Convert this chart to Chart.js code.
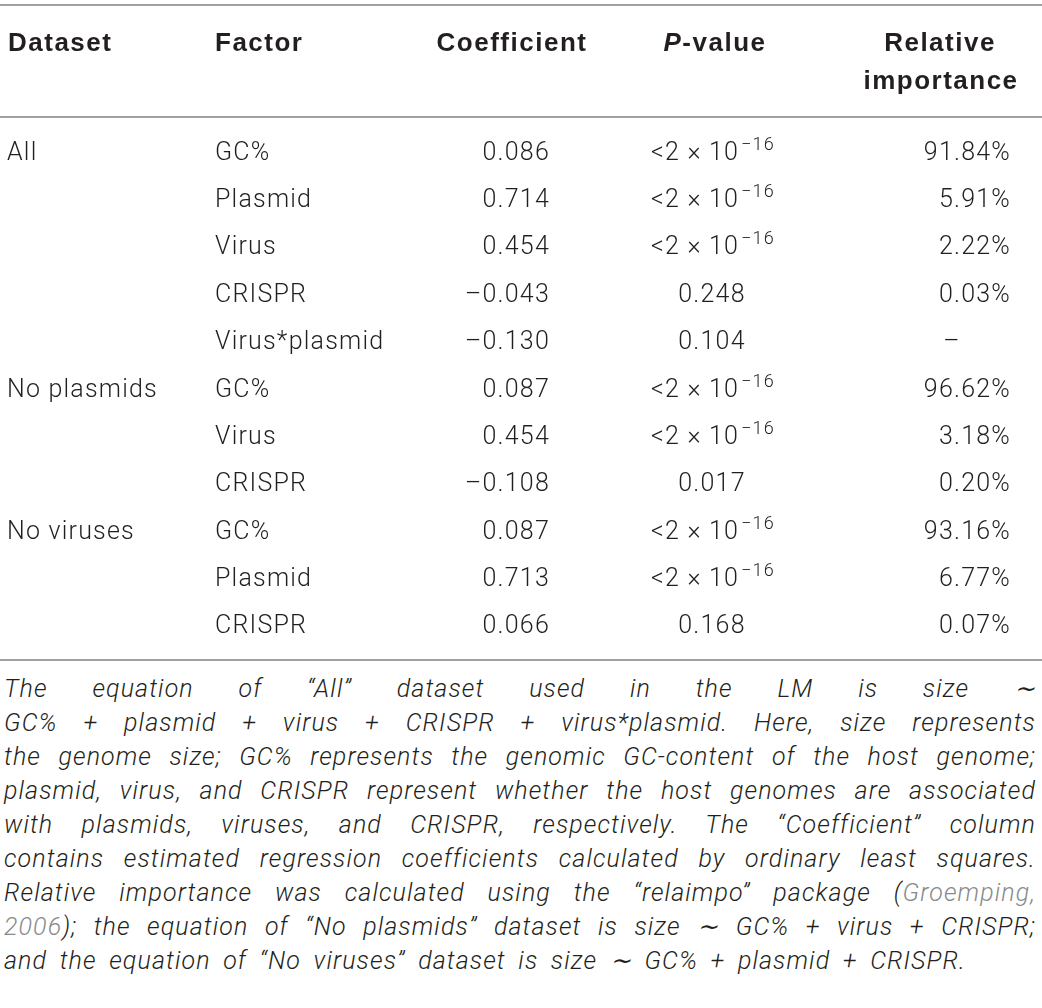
<!DOCTYPE html>
<html>
<head>
<meta charset="utf-8">
<script src="https://cdn.jsdelivr.net/npm/chart.js@4.4.0/dist/chart.umd.min.js"></script>
<style>
  body { margin: 0; background: #fff; width: 1042px; height: 1008px; overflow: hidden; position: relative; }
  #tabla { position: absolute; left: 0; top: 0; }
  #nota { position: absolute; left: 4px; top: 672px; width: 1032px; font-family: Roboto, "Liberation Sans", sans-serif;
          font-weight: 300; font-style: italic; font-size: 25px; line-height: 34px; color: #231f20; letter-spacing: 1.1px; }
  #nota div { text-align: justify; text-align-last: justify; white-space: nowrap; }
  #nota div.ult { width: 962px; }
  .ref { color: #8a8a8a; }
</style>
</head>
<body>
<canvas id="tabla" width="1042" height="664"></canvas>
<div id="nota"></div>
<script>
// datos de la tabla
var encabezados = ['Dataset', 'Factor', 'Coefficient', 'P-value', 'Relative importance'];
var grupos = ['All', '', '', '', '', 'No plasmids', '', '', 'No viruses', '', ''];
var factores = ['GC%', 'Plasmid', 'Virus', 'CRISPR', 'Virus*plasmid', 'GC%', 'Virus', 'CRISPR', 'GC%', 'Plasmid', 'CRISPR'];
var coeficientes = ['0.086', '0.714', '0.454', '–0.043', '–0.130', '0.087', '0.454', '–0.108', '0.087', '0.713', '0.066'];
var pvalores = ['<2e-16', '<2e-16', '<2e-16', '0.248', '0.104', '<2e-16', '<2e-16', '0.017', '<2e-16', '<2e-16', '0.168'];
var importancia = ['91.84%', '5.91%', '2.22%', '0.03%', '–', '96.62%', '3.18%', '0.20%', '93.16%', '6.77%', '0.07%'];
var nota = [
    'The equation of “All” dataset used in the LM is size ∼',
    'GC% + plasmid + virus + CRISPR + virus*plasmid. Here, size represents',
    'the genome size; GC% represents the genomic GC-content of the host genome;',
    'plasmid, virus, and CRISPR represent whether the host genomes are associated',
    'with plasmids, viruses, and CRISPR, respectively. The “Coefficient” column',
    'contains estimated regression coefficients calculated by ordinary least squares.',
    'Relative importance was calculated using the “relaimpo” package (<span class="ref">Groemping,</span>',
    '<span class="ref">2006</span>); the equation of “No plasmids” dataset is size ∼ GC% + virus + CRISPR;',
    'and the equation of “No viruses” dataset is size ∼ GC% + plasmid + CRISPR.'
];

var filas = factores.map(function (f, i) { return 'fila' + i; });

// anclas de columnas (px) y alineacion
var columnas = [
    { x: 7, align: 'left', datos: grupos },
    { x: 215, align: 'left', datos: factores },
    { x: 550, align: 'right', datos: coeficientes },
    { x: 712, align: 'center', datos: pvalores },
    { x: 1011, align: 'right', datos: importancia }
];

var fuenteNormal = '300 25px Roboto, "Liberation Sans", sans-serif';
var fuenteSup = '300 18px Roboto, "Liberation Sans", sans-serif';
var fuenteBold = 'bold 26px "Liberation Sans", Arial, sans-serif';
var espacioNormal = '1.2px';
var espacioBold = '1.5px';
var colorTexto = '#231f20';
var colorLinea = '#a0a0a0';
var subirCaja = 9; // de centro de fila a linea base

function dibujarPvalor(ctx, txt, x, y, align) {
    ctx.font = fuenteNormal;
    ctx.letterSpacing = espacioNormal;
    if (txt !== '<2e-16') {
        ctx.textAlign = align;
        ctx.fillText(txt, x, y);
        return;
    }
    var base = '<2 × 10';
    var sup = '−16';
    var w1 = ctx.measureText(base).width;
    ctx.font = fuenteSup;
    var w2 = ctx.measureText(sup).width;
    var x0 = x - (w1 + w2) / 2;
    ctx.textAlign = 'left';
    ctx.font = fuenteNormal;
    ctx.fillText(base, x0, y);
    ctx.font = fuenteSup;
    ctx.fillText(sup, x0 + w1 + 2, y - 10);
}

function linea(ctx, y) {
    ctx.save();
    ctx.strokeStyle = colorLinea;
    ctx.lineWidth = 2;
    ctx.beginPath();
    ctx.moveTo(0, y);
    ctx.lineTo(1042, y);
    ctx.stroke();
    ctx.restore();
}

var pluginTabla = {
    id: 'tabla',
    afterDraw: function (chart) {
        var ctx = chart.ctx;
        var xs = chart.scales.x;
        var ys = chart.scales.y;
        ctx.save();
        ctx.fillStyle = colorTexto;
        ctx.textBaseline = 'alphabetic';

        // lineas horizontales
        linea(ctx, 5);
        linea(ctx, 117);
        linea(ctx, 660);

        // encabezado
        ctx.font = fuenteBold;
        ctx.letterSpacing = espacioBold;
        ctx.textAlign = 'left';
        ctx.fillText(encabezados[0], xs.getPixelForValue(8), 51);
        ctx.fillText(encabezados[1], xs.getPixelForValue(215), 51);
        ctx.textAlign = 'center';
        ctx.fillText(encabezados[2], xs.getPixelForValue(512), 51);
        // P en cursiva
        var p = 'P';
        var resto = encabezados[3].substring(1);
        ctx.font = 'italic ' + fuenteBold;
        var wp = ctx.measureText(p).width;
        ctx.font = fuenteBold;
        var wr = ctx.measureText(resto).width;
        var xp = xs.getPixelForValue(715) - (wp + wr) / 2;
        ctx.textAlign = 'left';
        ctx.font = 'italic ' + fuenteBold;
        ctx.fillText(p, xp, 51);
        ctx.font = fuenteBold;
        ctx.fillText(resto, xp + wp, 51);
        var partes = encabezados[4].split(' ');
        ctx.textAlign = 'center';
        ctx.fillText(partes[0], xs.getPixelForValue(940), 51);
        ctx.fillText(partes[1], xs.getPixelForValue(941), 89);

        // filas
        for (var i = 0; i < filas.length; i++) {
            var y = ys.getPixelForValue(i) + subirCaja;
            for (var c = 0; c < columnas.length; c++) {
                var col = columnas[c];
                var txt = col.datos[i];
                var x = xs.getPixelForValue(col.x);
                if (c === 3) {
                    dibujarPvalor(ctx, txt, x, y, col.align);
                } else {
                    ctx.font = fuenteNormal;
                    ctx.letterSpacing = espacioNormal;
                    var alin = col.align;
                    if (c === 4 && txt === '–') { alin = 'center'; x = xs.getPixelForValue(952); }
                    ctx.textAlign = alin;
                    ctx.fillText(txt, x, y);
                }
            }
        }
        ctx.restore();
    }
};

function dibujarTabla() {
    new Chart('tabla', {
        type: 'scatter',
        data: {
            labels: filas,
            datasets: [{ data: [], pointRadius: 0 }]
        },
        options: {
            responsive: false,
            animation: false,
            events: [],
            layout: { padding: { top: 127, bottom: 16, left: 0, right: 0 } },
            plugins: { legend: { display: false }, tooltip: { enabled: false } },
            scales: {
                x: { type: 'linear', min: 0, max: 1042, display: false },
                y: { type: 'category', labels: filas, offset: true, display: false }
            }
        },
        plugins: [pluginTabla]
    });
}

function escribirNota() {
    var div = document.getElementById('nota');
    var html = '';
    for (var i = 0; i < nota.length; i++) {
        html += '<div' + (i === nota.length - 1 ? ' class="ult"' : '') + '>' + nota[i] + '</div>';
    }
    div.innerHTML = html;
}

escribirNota();
document.fonts.load(fuenteNormal).then(function () {
    dibujarTabla();
});
</script>
</body>
</html>
